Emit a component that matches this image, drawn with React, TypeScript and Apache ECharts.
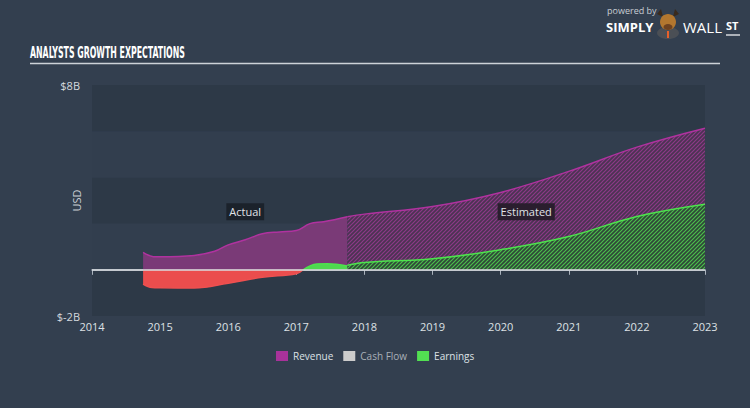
import React, { useEffect, useRef } from "react";
import * as echarts from "echarts";

const years = [2014, 2015, 2016, 2017, 2018, 2019, 2020, 2021, 2022, 2023];
const yTickLabels: Record<number, string> = { 8: "$8B", [-2]: "$-2B" };

// [year, USD billions]
const revenueActual: [number, number][] = [
  [2014.75, 0.75], [2014.9, 0.57], [2015, 0.56], [2015.5, 0.62], [2015.8, 0.8],
  [2016, 1.08], [2016.25, 1.3], [2016.5, 1.56], [2016.75, 1.64], [2017, 1.7],
  [2017.2, 2.0], [2017.4, 2.08], [2017.75, 2.3],
];
const revenueEstimated: [number, number][] = [
  [2017.75, 2.3], [2018, 2.41], [2019, 2.74], [2020, 3.35], [2021, 4.26],
  [2022, 5.31], [2023, 6.13],
];
const earningsActualNeg: [number, number][] = [
  [2014.75, -0.62], [2014.88, -0.77], [2015, -0.78], [2015.5, -0.79],
  [2016, -0.58], [2016.5, -0.32], [2017, -0.17], [2017.1, 0],
];
const earningsActualPos: [number, number][] = [
  [2017.1, 0], [2017.3, 0.25], [2017.45, 0.26], [2017.75, 0.17],
];
const earningsEstimated: [number, number][] = [
  [2017.75, 0.2], [2018, 0.32], [2019, 0.48], [2020, 0.87], [2021, 1.44],
  [2022, 2.31], [2023, 2.84],
];

function hatch(bg: string, fg: string): HTMLCanvasElement {
  const c = document.createElement("canvas");
  c.width = 4;
  c.height = 4;
  const ctx = c.getContext("2d")!;
  ctx.fillStyle = bg;
  ctx.fillRect(0, 0, 4, 4);
  ctx.strokeStyle = fg;
  ctx.lineWidth = 1.2;
  ctx.beginPath();
  ctx.moveTo(-1, 5);
  ctx.lineTo(5, -1);
  ctx.moveTo(-1, 1);
  ctx.lineTo(1, -1);
  ctx.moveTo(3, 5);
  ctx.lineTo(5, 3);
  ctx.stroke();
  return c;
}

const FONT = "'Open Sans', 'DejaVu Sans', sans-serif";

export default function App() {
  const ref = useRef<HTMLDivElement>(null);
  useEffect(() => {
    if (!ref.current) return;
    const chart = echarts.init(ref.current, null, { renderer: "svg" });
    const purpleLine = "#b0329f";
    const greenLine = "#4de34d";
    const option: any = {
      animation: false,
      backgroundColor: "#333f4f",
      textStyle: { fontFamily: FONT },
      grid: { left: 92, right: 45, top: 85, bottom: 92 },
      xAxis: {
        type: "value",
        min: 2014,
        max: 2023,
        interval: 1,
        axisLine: { lineStyle: { color: "#aab3bd", width: 1.5 } },
        axisTick: { show: true, length: 5, lineStyle: { color: "#aab3bd" } },
        axisLabel: {
          color: "#dde1e5",
          fontSize: 11,
          margin: 5,
          formatter: (v: number) => (years.includes(v) ? String(v) : ""),
        },
        splitLine: { show: false },
      },
      yAxis: {
        type: "value",
        min: -2,
        max: 8,
        interval: 2,
        name: "USD",
        nameLocation: "middle",
        nameRotate: 90,
        nameGap: 10,
        nameMoveOverlap: false,
        nameTextStyle: { color: "#c9ced4", fontSize: 11 },
        axisLine: { show: false },
        axisTick: { show: false },
        axisLabel: {
          color: "#d5d9de",
          fontSize: 11,
          margin: 12,
          formatter: (v: number) => yTickLabels[v] ?? "",
        },
        splitLine: { show: false },
        splitArea: { show: true, areaStyle: { color: ["#2d3947", "#323e4e"] } },
      },
      legend: {
        bottom: 42,
        left: 271,
        itemWidth: 12,
        itemHeight: 10,
        itemGap: 10,
        icon: "rect",
        textStyle: { color: "#dde1e5", fontSize: 10 },
        data: [
          { name: "Revenue", itemStyle: { color: "#a8329a" } },
          { name: "Cash Flow", itemStyle: { color: "#cccccc" }, textStyle: { color: "#a9b0b8" } },
          { name: "Earnings", itemStyle: { color: "#52e052" } },
        ],
      },
      series: [
        {
          name: "Revenue",
          type: "line",
          data: revenueActual,
          smooth: 0.4,
          symbol: "none",
          lineStyle: { color: purpleLine, width: 1.5 },
          itemStyle: { color: purpleLine },
          areaStyle: { color: "#7a3a77", opacity: 1 },
          z: 2,
          markPoint: {
            symbol: "rect",
            symbolSize: 0,
            data: [{ coord: [2016.25, 2.51], value: "Actual" }],
            label: {
              show: true,
              position: "inside",
              formatter: "Actual",
              color: "#e0e3e7",
              fontSize: 11,
              backgroundColor: "#1b222b",
              padding: [3, 3],
            },
          },
        },
        {
          name: "Revenue",
          type: "line",
          data: revenueEstimated,
          smooth: 0.4,
          symbol: "none",
          lineStyle: { color: purpleLine, width: 1.5 },
          itemStyle: { color: purpleLine },
          areaStyle: { color: { image: hatch("#4a3352", "#8d3a88"), repeat: "repeat" }, opacity: 1 },
          z: 2,
          markPoint: {
            symbol: "rect",
            symbolSize: 0,
            data: [{ coord: [2020.375, 2.51], value: "Estimated" }],
            label: {
              show: true,
              position: "inside",
              formatter: "Estimated",
              color: "#e0e3e7",
              fontSize: 11,
              backgroundColor: "#2a1e2e",
              padding: [3, 3],
            },
          },
        },
        {
          name: "Cash Flow",
          type: "line",
          data: [],
          itemStyle: { color: "#cccccc" },
        },
        {
          name: "Earnings",
          type: "line",
          data: earningsActualNeg,
          smooth: 0.4,
          symbol: "none",
          lineStyle: { color: "#ee5050", width: 1.5 },
          itemStyle: { color: "#ee5050" },
          areaStyle: { color: "#eb4d4d", opacity: 1 },
          z: 3,
        },
        {
          name: "Earnings",
          type: "line",
          data: earningsActualPos,
          smooth: 0.4,
          symbol: "none",
          lineStyle: { color: greenLine, width: 1.5 },
          itemStyle: { color: greenLine },
          areaStyle: { color: "#4fd84f", opacity: 1 },
          z: 3,
        },
        {
          name: "Earnings",
          type: "line",
          data: earningsEstimated,
          smooth: 0.4,
          symbol: "none",
          lineStyle: { color: greenLine, width: 1.5 },
          itemStyle: { color: greenLine },
          areaStyle: { color: { image: hatch("#2f4738", "#4cbf4c"), repeat: "repeat" }, opacity: 1 },
          z: 3,
          markLine: {
            silent: true,
            symbol: "none",
            label: { show: false },
            lineStyle: { color: "#d9dde1", width: 1.5, type: "solid" },
            data: [{ yAxis: 0 }],
            z: 5,
          },
        },
      ],
      graphic: [
        {
          type: "text",
          x: 30,
          y: 46,
          scaleX: 0.58,
          style: {
            text: "ANALYSTS GROWTH EXPECTATIONS",
            fill: "#ffffff",
            font: "bold 15px 'DejaVu Sans Condensed', 'Liberation Sans Narrow', sans-serif",
          },
        },
        {
          type: "line",
          shape: { x1: 30, y1: 63.5, x2: 720, y2: 63.5 },
          style: { stroke: "#cdd2d8", lineWidth: 1.5 },
        },
        {
          type: "text",
          x: 607,
          y: 6,
          style: { text: "powered by", fill: "#c8cdd3", font: "9px 'Open Sans', sans-serif" },
        },
        {
          type: "text",
          x: 606,
          y: 20,
          style: { text: "SIMPLY", fill: "#ffffff", font: "bold 13px 'Open Sans', sans-serif" },
        },
        {
          type: "group",
          children: [
            { type: "ellipse", shape: { cx: 668, cy: 33, rx: 11, ry: 6 }, style: { fill: "#4b4f55" } },
            { type: "polygon", shape: { points: [[657, 14], [661, 9], [663, 17]] }, style: { fill: "#3a2a1c" } },
            { type: "polygon", shape: { points: [[679, 14], [675, 9], [673, 17]] }, style: { fill: "#3a2a1c" } },
            { type: "ellipse", shape: { cx: 668, cy: 22, rx: 8, ry: 8 }, style: { fill: "#b3772f" } },
            { type: "ellipse", shape: { cx: 668, cy: 27, rx: 4.5, ry: 3 }, style: { fill: "#6e4220" } },
            { type: "rect", shape: { x: 667, y: 31, width: 2, height: 7 }, style: { fill: "#e8602a" } },
          ],
        },
        {
          type: "text",
          x: 683,
          y: 19,
          style: { text: "WALL", fill: "#ffffff", font: "15px 'Open Sans', sans-serif" },
        },
        {
          type: "text",
          x: 726,
          y: 20,
          style: { text: "ST", fill: "#ffffff", font: "bold 11px 'Open Sans', sans-serif" },
        },
        {
          type: "line",
          shape: { x1: 726, y1: 35, x2: 740, y2: 35 },
          style: { stroke: "#ffffff", lineWidth: 1.2 },
        },
      ],
    };
    chart.setOption(option);
    return () => chart.dispose();
  }, []);
  return <div ref={ref} style={{ width: 750, height: 408, position: "absolute", left: 0, top: 0 }} />;
}
